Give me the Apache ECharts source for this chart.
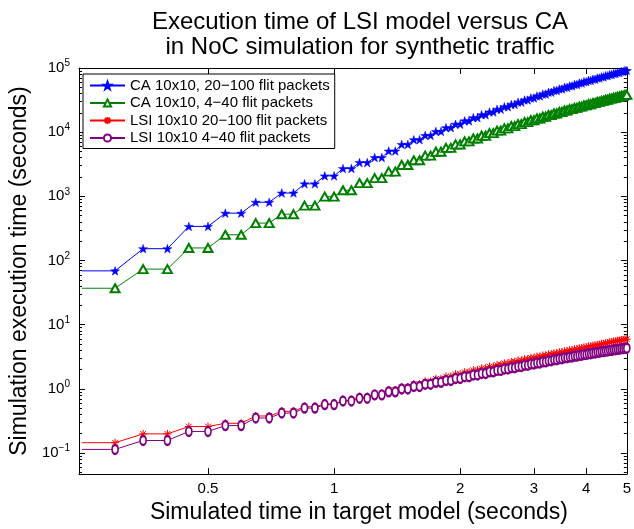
<!DOCTYPE html>
<html>
<head>
<meta charset="utf-8">
<script src="https://cdn.jsdelivr.net/npm/echarts@6.0.0/dist/echarts.min.js"></script>
<style>
  html, body { margin: 0; padding: 0; background: #fff; }
  #chart { width: 634px; height: 529px; }
</style>
</head>
<body>
<div id="chart"></div>
<script>
// simulated time in target model (seconds)
const xs = [0.25, 0.3, 0.35, 0.4, 0.45, 0.5, 0.55, 0.6, 0.65, 0.7, 0.75, 0.8, 0.85, 0.9, 0.95, 1,
  1.05, 1.1, 1.15, 1.2, 1.25, 1.3, 1.35, 1.4, 1.45, 1.5, 1.55, 1.6, 1.65, 1.7, 1.75, 1.8, 1.85, 1.9, 1.95, 2,
  2.05, 2.1, 2.15, 2.2, 2.25, 2.3, 2.35, 2.4, 2.45, 2.5, 2.55, 2.6, 2.65, 2.7, 2.75, 2.8, 2.85, 2.9, 2.95, 3,
  3.05, 3.1, 3.15, 3.2, 3.25, 3.3, 3.35, 3.4, 3.45, 3.5, 3.55, 3.6, 3.65, 3.7, 3.75, 3.8, 3.85, 3.9, 3.95, 4,
  4.05, 4.1, 4.15, 4.2, 4.25, 4.3, 4.35, 4.4, 4.45, 4.5, 4.55, 4.6, 4.65, 4.7, 4.75, 4.8, 4.85, 4.9, 4.95, 5]

// simulation execution time (seconds)
const caLarge = [69, 69, 153, 153, 340, 340, 547, 547, 809, 809, 1127, 1127, 1567, 1567, 2084, 2084,
  2710, 2710, 3357, 3357, 4018, 4018, 5082, 5082, 6442, 6442, 7621, 7621, 8892, 8892, 10260, 10260,
  11750, 11750, 13300, 13300, 15000, 15000, 16790, 16790, 18660, 18660, 20610, 20610, 22700, 22700,
  24830, 24830, 27040, 27040, 29310, 29310, 31700, 31700, 34120, 34120, 36640, 36640, 39170, 39170,
  41780, 41780, 44460, 44460, 47100, 47100, 49890, 49890, 52600, 52600, 55340, 55340, 58210, 58210,
  61090, 61090, 63970, 63970, 66830, 66830, 69820, 69820, 72780, 72780, 75860, 75860, 78890, 78890,
  81850, 81850, 85110, 85110, 88110, 88110, 91410, 91410]

const caSmall = [37, 37, 73.5, 73.5, 157, 157, 252, 252, 383, 383, 527, 527, 716, 716, 989, 989,
  1245, 1245, 1607, 1607, 1923, 1923, 2432, 2432, 3083, 3083, 3648, 3648, 4305, 4305, 4966, 4966,
  5689, 5689, 6442, 6442, 7178, 7178, 7980, 7980, 8810, 8810, 9661, 9661, 10570, 10570, 11480, 11480,
  12420, 12420, 13370, 13370, 14360, 14360, 15350, 15350, 16370, 16370, 17420, 17420, 18490, 18490,
  19590, 19590, 20650, 20650, 21780, 21780, 22860, 22860, 23930, 23930, 25060, 25060, 26180, 26180,
  27290, 27290, 28450, 28450, 29650, 29650, 30830, 30830, 32060, 32060, 33270, 33270, 34440, 34440,
  35730, 35730, 36900, 36900, 38190, 38190]

const lsiLarge = [0.145, 0.145, 0.199, 0.199, 0.259, 0.259, 0.291, 0.291, 0.378, 0.378, 0.447, 0.447,
  0.527, 0.527, 0.582, 0.582, 0.661, 0.661, 0.741, 0.741, 0.845, 0.845, 0.953, 0.953, 1.067, 1.067,
  1.186, 1.186, 1.309, 1.309, 1.435, 1.435, 1.563, 1.563, 1.694, 1.694, 1.824, 1.824, 1.959, 1.959,
  2.094, 2.094, 2.228, 2.228, 2.366, 2.366, 2.5, 2.5, 2.636, 2.636, 2.773, 2.773, 2.911, 2.911,
  3.048, 3.048, 3.184, 3.184, 3.319, 3.319, 3.455, 3.455, 3.593, 3.593, 3.733, 3.733, 3.873, 3.873,
  4.014, 4.014, 4.157, 4.157, 4.301, 4.301, 4.445, 4.445, 4.59, 4.59, 4.737, 4.737, 4.886, 4.886,
  5.035, 5.035, 5.184, 5.184, 5.336, 5.336, 5.488, 5.488, 5.642, 5.642, 5.796, 5.796, 5.95, 5.95]

const lsiSmall = [0.114, 0.114, 0.157, 0.157, 0.217, 0.217, 0.268, 0.268, 0.352, 0.352, 0.42, 0.42,
  0.502, 0.502, 0.569, 0.569, 0.646, 0.646, 0.716, 0.716, 0.807, 0.807, 0.899, 0.899, 0.995, 0.995,
  1.089, 1.089, 1.18, 1.18, 1.265, 1.265, 1.355, 1.355, 1.449, 1.449, 1.545, 1.545, 1.644, 1.644,
  1.742, 1.742, 1.841, 1.841, 1.941, 1.941, 2.037, 2.037, 2.138, 2.138, 2.239, 2.239, 2.339, 2.339,
  2.438, 2.438, 2.535, 2.535, 2.636, 2.636, 2.738, 2.738, 2.841, 2.841, 2.944, 2.944, 3.048, 3.048,
  3.146, 3.146, 3.242, 3.242, 3.339, 3.339, 3.435, 3.435, 3.53, 3.53, 3.627, 3.627, 3.723, 3.723,
  3.811, 3.811, 3.897, 3.897, 3.983, 3.983, 4.068, 4.068, 4.153, 4.153, 4.237, 4.237, 4.31, 4.31]

const seriesNames = [
  'CA 10x10, 20\u2212100 flit packets',
  'CA 10x10, 4\u221240 flit packets',
  'LSI 10x10 20\u2212100 flit packets',
  'LSI 10x10 4\u221240 flit packets'
]

// tick positions
const xTicks = [0.5, 1, 2, 3, 4, 5]
const yMajor = [0.1, 1, 10, 100, 1000, 10000, 100000]
const yMinor = []
for (let e = -2; e <= 4; e++) {
  for (let m = 2; m <= 9; m++) {
    const v = +(m * Math.pow(10, e)).toPrecision(3)
    if (v >= 0.05) yMinor.push(v)
  }
}

const FONT = '"Liberation Sans", Arial, Helvetica, sans-serif'
const STAR = 'path://M50,0L61.23,34.55L97.55,34.55L68.16,55.9L79.39,90.45L50,69.1L20.61,90.45L31.84,55.9L2.45,34.55L38.77,34.55Z'
const ASTER = 'path://M5,0L5,10M0,5L10,5M1.5,1.5L8.5,8.5M1.5,8.5L8.5,1.5'

const X_MIN = 0.246, X_MAX = 5
const Y_MIN = 0.047, Y_MAX = 100000

// first point sits on the left edge; the reference shows no marker there
function pts(ys) {
  return xs.map((x, i) => i === 0 ? { value: [x, ys[i]], symbol: 'none' } : [x, ys[i]])
}

function supLabel(v) {
  const e = Math.round(Math.log10(v))
  return '{b|10}{s|' + (e < 0 ? '\u2212' + (-e) : e) + '}'
}

const chart = echarts.init(document.getElementById('chart'))

const tickAxisBase = {
  splitLine: { show: false },
  axisLabel: { show: false },
  axisLine: { show: false }
}

const option = {
  animation: false,
  backgroundColor: '#fff',
  textStyle: { fontFamily: FONT },
  title: {
    text: 'Execution time of LSI model versus CA\nin NoC simulation for synthetic traffic',
    left: 355,
    top: 5,
    textAlign: 'center',
    textStyle: { fontFamily: FONT, fontSize: 24, fontWeight: 'normal', color: '#000', lineHeight: 25 }
  },
  legend: {
    orient: 'vertical',
    left: 83,
    top: 74,
    padding: [4, 5, 3, 6],
    itemGap: 2.5,
    itemWidth: 35,
    itemHeight: 9,
    borderColor: '#000',
    borderWidth: 1,
    backgroundColor: '#fff',
    data: seriesNames,
    textStyle: { fontFamily: FONT, fontSize: 15, color: '#000' }
  },
  grid: { left: 76, right: 3, top: 68, bottom: 51, containLabel: false },
  xAxis: [
    {
      type: 'log', logBase: 10, min: X_MIN, max: X_MAX, position: 'bottom',
      name: 'Simulated time in target model (seconds)',
      nameLocation: 'middle', nameGap: 21,
      nameTextStyle: { fontFamily: FONT, fontSize: 23, color: '#000', padding: [0, 0, 0, 12] },
      axisLine: { lineStyle: { color: '#000', width: 1 } },
      axisTick: { inside: true, length: 6, customValues: xTicks, lineStyle: { color: '#000' } },
      axisLabel: { customValues: xTicks, margin: 7, fontSize: 15, color: '#000', fontFamily: FONT,
        formatter: v => String(+v.toPrecision(3)) },
      splitLine: { show: false }
    },
    {
      type: 'log', logBase: 10, min: X_MIN, max: X_MAX, position: 'top',
      axisLine: { lineStyle: { color: '#000', width: 1 } },
      axisTick: { inside: true, length: 6, customValues: xTicks, lineStyle: { color: '#000' } },
      axisLabel: { show: false },
      splitLine: { show: false }
    }
  ],
  yAxis: [
    {
      type: 'log', logBase: 10, min: Y_MIN, max: Y_MAX, position: 'left',
      name: 'Simulation execution time (seconds)',
      nameLocation: 'middle', nameGap: 46,
      nameTextStyle: { fontFamily: FONT, fontSize: 23, color: '#000' },
      axisLine: { lineStyle: { color: '#000', width: 1 } },
      axisTick: { inside: true, length: 6, customValues: yMajor, lineStyle: { color: '#000' } },
      axisLabel: {
        customValues: yMajor, margin: 9, formatter: supLabel,
        rich: {
          b: { fontFamily: FONT, fontSize: 15, color: '#000' },
          s: { fontFamily: FONT, fontSize: 10, color: '#000', padding: [0, 0, 9, 0] }
        }
      },
      splitLine: { show: false }
    },
    Object.assign({}, tickAxisBase, {
      type: 'log', logBase: 10, min: Y_MIN, max: Y_MAX, position: 'left',
      axisTick: { inside: true, length: 3, customValues: yMinor, lineStyle: { color: '#000' } }
    }),
    {
      type: 'log', logBase: 10, min: Y_MIN, max: Y_MAX, position: 'right',
      axisLine: { lineStyle: { color: '#000', width: 1 } },
      axisTick: { inside: true, length: 6, customValues: yMajor, lineStyle: { color: '#000' } },
      axisLabel: { show: false },
      splitLine: { show: false }
    },
    Object.assign({}, tickAxisBase, {
      type: 'log', logBase: 10, min: Y_MIN, max: Y_MAX, position: 'right',
      axisTick: { inside: true, length: 3, customValues: yMinor, lineStyle: { color: '#000' } }
    })
  ],
  series: [
    {
      name: seriesNames[0], type: 'line', data: pts(caLarge),
      symbol: STAR, symbolSize: 9, symbolKeepAspect: true, showAllSymbol: true,
      lineStyle: { width: 1, color: '#0000ff' },
      itemStyle: { color: '#0000ff', borderColor: '#0000ff', borderWidth: 0.5 }
    },
    {
      name: seriesNames[1], type: 'line', data: pts(caSmall),
      symbol: 'emptyTriangle', symbolSize: [9, 8], showAllSymbol: true,
      lineStyle: { width: 1, color: '#008000' },
      itemStyle: { color: '#008000', borderWidth: 1 }
    },
    {
      name: seriesNames[2], type: 'line', data: pts(lsiLarge),
      symbol: ASTER, symbolSize: 8, showAllSymbol: true,
      lineStyle: { width: 1, color: '#ff0000' },
      itemStyle: { color: '#ff0000', borderColor: '#ff0000', borderWidth: 1 }
    },
    {
      name: seriesNames[3], type: 'line', data: pts(lsiSmall),
      symbol: 'emptyCircle', symbolSize: [6, 9], showAllSymbol: true,
      lineStyle: { width: 1, color: '#800080' },
      itemStyle: { color: '#800080', borderWidth: 1 }
    }
  ]
}

chart.setOption(option)
</script>
</body>
</html>
